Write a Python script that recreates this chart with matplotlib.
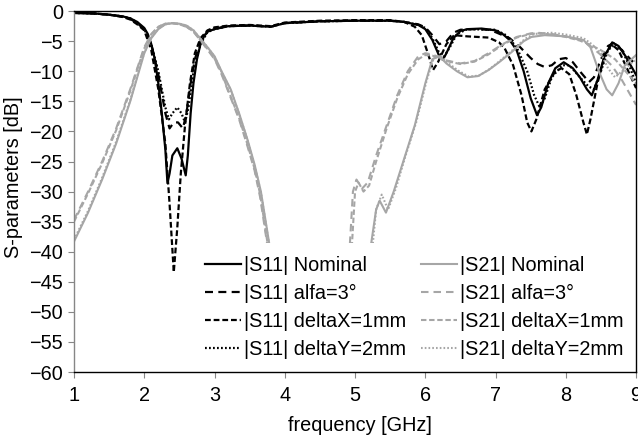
import numpy as np
import matplotlib.pyplot as plt

plt.rcParams['font.family'] = ['Liberation Sans', 'DejaVu Sans']

# |S11| curves (frequency GHz, dB)
s11_nom_f = [1.0, 1.3, 1.5, 1.7, 1.8, 1.9, 2.0, 2.05, 2.1, 2.15, 2.2, 2.25, 2.3, 2.33, 2.36, 2.4, 2.47, 2.53,
             2.59, 2.62, 2.66, 2.7, 2.75, 2.8, 2.85, 2.9, 3.0, 3.2, 3.5, 3.8, 4.0, 4.5, 5.0, 5.5, 5.7, 5.9,
             6.0, 6.1, 6.2, 6.25, 6.3, 6.4, 6.5, 6.6, 6.8, 7.0, 7.1, 7.2, 7.3, 7.4, 7.5, 7.59, 7.65, 7.75,
             7.85, 7.97, 8.1, 8.2, 8.3, 8.37, 8.45, 8.55, 8.66, 8.75, 8.85, 9.0]
s11_nom_db = [-0.3, -0.4, -0.6, -0.9, -1.2, -1.8, -2.8, -3.8, -5.5, -8, -12, -17, -23, -28.6, -27, -24, -22.8,
              -24.5, -27.3, -24, -17, -12, -8, -5.5, -4.2, -3.4, -3.0, -2.5, -2.4, -2.6, -2.0, -1.7, -1.6,
              -1.6, -1.8, -2.3, -3.0, -4.8, -7.5, -8.1, -7.0, -4.5, -3.3, -3.0, -2.9, -3.2, -3.8, -4.8,
              -6.5, -10, -14.5, -17.3, -16, -12, -9.5, -8.5, -9.5, -11, -13, -14, -11.5, -7.5, -5.2, -5.8,
              -7.5, -10.6]

s11_alfa_f = [1.0, 1.3, 1.5, 1.7, 1.8, 1.9, 2.0, 2.1, 2.2, 2.3, 2.36, 2.42, 2.48, 2.55, 2.6, 2.66, 2.72, 2.8,
              2.9, 3.0, 3.2, 3.5, 3.8, 4.0, 4.5, 5.0, 5.5, 5.7, 5.9, 6.0, 6.1, 6.2, 6.3, 6.4, 6.5, 6.7, 6.9,
              7.0, 7.2, 7.35, 7.5, 7.6, 7.7, 7.8, 7.9, 8.0, 8.1, 8.2, 8.33, 8.4, 8.5, 8.6, 8.68, 8.8, 9.0]
s11_alfa_db = [-0.3, -0.4, -0.6, -0.9, -1.3, -2.0, -3.0, -5.5, -10.5, -17, -19.5, -18.5, -18.5, -19.5, -17,
               -12, -8, -5, -3.4, -2.9, -2.5, -2.4, -2.6, -2.0, -1.7, -1.6, -1.6, -1.8, -2.2, -2.7, -4.0,
               -5.5, -5.0, -3.6, -3.1, -3.0, -3.1, -3.5, -4.5, -6, -7.8, -8.8, -9.3, -9, -8, -7.8, -8.5,
               -10, -11.8, -11, -8, -5.8, -5.3, -6.5, -9]

s11_dx_f = [1.0, 1.3, 1.5, 1.7, 1.8, 1.9, 2.0, 2.1, 2.2, 2.3, 2.36, 2.42, 2.47, 2.52, 2.58, 2.65, 2.72, 2.8,
            2.9, 3.0, 3.2, 3.5, 3.8, 4.0, 4.5, 5.0, 5.5, 5.7, 5.85, 5.95, 6.05, 6.11, 6.18, 6.3, 6.41, 6.6,
            6.9, 7.05, 7.13, 7.25, 7.37, 7.45, 7.51, 7.58, 7.7, 7.85, 7.94, 8.05, 8.15, 8.25, 8.3, 8.35,
            8.45, 8.55, 8.65, 8.75, 8.85, 9.0]
s11_dx_db = [-0.3, -0.4, -0.6, -1.0, -1.4, -2.2, -3.2, -6.5, -13, -22, -32, -43.4, -36, -27, -19, -12, -7,
             -4.5, -3.2, -2.7, -2.4, -2.3, -2.5, -1.9, -1.6, -1.5, -1.5, -1.8, -2.6, -4, -7.5, -9.8, -8.5,
             -5.5, -4.0, -4.2, -4.4, -5.2, -6.2, -9, -14, -18.5, -20, -18, -13, -10, -9.5, -10.5, -14,
             -18.5, -20.5, -18, -12, -7.5, -5.5, -6.5, -9, -12.8]

s11_dy_f = [1.0, 1.3, 1.5, 1.7, 1.8, 1.9, 2.0, 2.1, 2.2, 2.3, 2.35, 2.4, 2.47, 2.53, 2.58, 2.63, 2.7, 2.8,
            2.9, 3.0, 3.2, 3.5, 3.8, 4.0, 4.5, 5.0, 5.5, 5.7, 5.9, 6.0, 6.1, 6.2, 6.27, 6.35, 6.45, 6.6,
            7.0, 7.15, 7.3, 7.45, 7.55, 7.63, 7.7, 7.8, 7.95, 8.05, 8.2, 8.32, 8.4, 8.5, 8.6, 8.7, 8.8,
            8.9, 9.0]
s11_dy_db = [-0.3, -0.4, -0.6, -0.9, -1.2, -1.9, -3.0, -5.5, -10, -16, -18, -17, -16, -17, -18.5, -16,
             -10, -5.5, -3.5, -3.0, -2.5, -2.4, -2.6, -2.0, -1.7, -1.6, -1.6, -1.8, -2.3, -2.8, -4.5, -7,
             -7.5, -6, -3.8, -3.0, -3.1, -4, -6, -10, -14, -16, -14.5, -11, -9, -9, -11, -12.5, -13, -10,
             -6.5, -5.5, -6.5, -9, -12]

# |S21| curves
s21_nom_f = [1.0, 1.2, 1.4, 1.6, 1.8, 1.9, 2.0, 2.1, 2.2, 2.3, 2.4, 2.5, 2.6, 2.7, 2.8, 2.9, 3.0, 3.1,
             3.23, 3.35, 3.47, 3.57, 3.66, 3.77, 3.9, 4.0, 4.1, 5.0, 5.15, 5.3, 5.35, 5.44, 5.55, 5.7,
             5.85, 6.0, 6.1, 6.2, 6.3, 6.45, 6.6, 6.75, 6.9, 7.05, 7.23, 7.4, 7.51, 7.7, 8.0, 8.25, 8.35,
             8.47, 8.58, 8.66, 8.75, 8.84, 9.0]
s21_nom_db = [-38.3, -33.5, -28, -22, -15, -11, -7, -4.5, -3, -2.2, -2.0, -2.1, -2.4, -3.2, -4.6, -6, -7.5,
              -10, -13, -17, -21.4, -25.5, -30, -38, -48, -56, -63, -65, -45, -33, -31.5, -33.5, -30,
              -24.5, -19, -12, -8, -7.5, -8.7, -10, -11, -10.8, -9.8, -8.5, -6.8, -5, -4.3, -4, -4.2,
              -4.8, -6, -10, -13, -14, -12, -9, -7.3]

s21_alfa_f = [1.0, 1.2, 1.4, 1.6, 1.8, 1.9, 2.0, 2.1, 2.2, 2.3, 2.4, 2.5, 2.6, 2.7, 2.8, 2.9, 3.0, 3.1, 3.2,
              3.35, 3.47, 3.57, 3.65, 3.74, 3.85, 3.95, 4.05, 4.8, 4.92, 4.97, 5.02, 5.1, 5.18, 5.3,
              5.45, 5.6, 5.75, 5.9, 6.0, 6.1, 6.3, 6.5, 6.7, 6.9, 7.1, 7.3, 7.5, 7.6, 7.8, 8.0, 8.2,
              8.35, 8.5, 8.65, 8.8, 9.0]
s21_alfa_db = [-34.7, -30, -25, -19.5, -13, -9.5, -6, -3.8, -2.6, -2.1, -2.0, -2.2, -2.6, -3.4, -4.9, -6.4,
               -8, -10.5, -13.5, -18, -22.5, -26.5, -31, -38, -46, -55, -63, -65, -40, -30, -28, -29.5,
               -28.5, -24, -19, -14, -10, -7.5, -7, -7.2, -8.2, -8.7, -8.3, -7, -5.5, -4.3, -3.7, -3.6,
               -3.8, -4.2, -4.8, -5.8, -7.3, -9, -11.5, -15.6]

s21_dx_f = [1.0, 1.2, 1.4, 1.6, 1.8, 1.9, 2.0, 2.1, 2.2, 2.3, 2.4, 2.5, 2.6, 2.7, 2.8, 2.9, 3.0, 3.1, 3.2,
            3.35, 3.47, 3.57, 3.65, 3.74, 3.85, 3.95, 4.05, 4.85, 4.95, 5.0, 5.05, 5.12, 5.2, 5.3, 5.45,
            5.6, 5.75, 5.9, 6.0, 6.1, 6.3, 6.5, 6.7, 6.9, 7.1, 7.3, 7.5, 7.6, 7.8, 8.0, 8.2, 8.35, 8.5,
            8.7, 8.85, 9.0]
s21_dx_db = [-35.0, -30.3, -25.3, -19.8, -13.3, -9.7, -6.2, -3.9, -2.6, -2.1, -2.0, -2.2, -2.6, -3.4, -4.8,
             -6.3, -7.9, -10.3, -13.3, -17.8, -22.2, -26.2, -30.5, -37.5, -45.5, -54.5, -62.5, -65, -40,
             -30, -28.5, -30, -29, -25, -19.5, -14.5, -10.5, -8, -7.3, -7.4, -8.3, -8.8, -8.4, -7.2,
             -5.6, -4.4, -3.8, -3.7, -3.9, -4.3, -4.9, -5.6, -6.5, -8, -10, -12]

s21_dy_f = [1.0, 1.2, 1.4, 1.6, 1.8, 1.9, 2.0, 2.1, 2.2, 2.3, 2.4, 2.5, 2.6, 2.7, 2.8, 2.9, 3.0, 3.1,
            3.23, 3.35, 3.47, 3.57, 3.66, 3.77, 3.9, 4.0, 4.1, 5.05, 5.2, 5.3, 5.38, 5.47, 5.58, 5.72,
            5.87, 6.02, 6.12, 6.22, 6.32, 6.47, 6.62, 6.77, 6.92, 7.07, 7.25, 7.42, 7.55, 7.8, 8.0, 8.25,
            8.37, 8.5, 8.6, 8.7, 8.8, 8.9, 9.0]
s21_dy_db = [-38.0, -33.2, -27.7, -21.7, -14.8, -10.8, -6.9, -4.4, -2.9, -2.2, -2.0, -2.1, -2.4, -3.2, -4.6,
             -6, -7.6, -10.1, -13.1, -17.1, -21.5, -25.7, -30.2, -38.3, -48.5, -56.5, -63.5, -65, -45,
             -33, -30.5, -33, -29.5, -24, -18.5, -11.5, -7.8, -7.4, -8.6, -9.9, -10.9, -10.7, -9.6, -8.2,
             -6.4, -4.6, -3.8, -3.6, -3.9, -4.5, -5.5, -7, -9.5, -11, -10, -9, -8]

s11_series = [(s11_nom_f, s11_nom_db, '|S11| Nominal'),
              (s11_alfa_f, s11_alfa_db, '|S11| alfa=3°'),
              (s11_dx_f, s11_dx_db, '|S11| deltaX=1mm'),
              (s11_dy_f, s11_dy_db, '|S11| deltaY=2mm')]
s21_series = [(s21_nom_f, s21_nom_db, '|S21| Nominal'),
              (s21_alfa_f, s21_alfa_db, '|S21| alfa=3°'),
              (s21_dx_f, s21_dx_db, '|S21| deltaX=1mm'),
              (s21_dy_f, s21_dy_db, '|S21| deltaY=2mm')]
styles = ['-', (0, (3.6, 2.4)), (0, (2.6, 1.3)), (0, (0.8, 1.0))]

fs = 14.3
fig = plt.figure(figsize=(6.38, 4.44), dpi=100)
ax = fig.add_axes([0.116, 0.162, 0.881, 0.813])

handles = []
for (f, db, lab), ls in zip(s11_series, styles):
    h, = ax.plot(f, db, color='black', lw=1.6, ls=ls, label=lab)
    handles.append(h)
for (f, db, lab), ls in zip(s21_series, styles):
    h, = ax.plot(f, db, color='#a6a6a6', lw=1.5, ls=ls, label=lab)
    handles.append(h)

ax.set_xlim(1, 9)
ax.set_ylim(-60, 0)
ax.set_xticks(range(1, 10))
ax.set_yticks(range(-60, 1, 5))
ax.tick_params(axis='both', direction='out', length=4, color='#868686', labelsize=fs)
ax.tick_params(axis='x', pad=6)
ax.tick_params(axis='y', pad=4)
for s in ax.spines.values():
    s.set_color('black')
    s.set_linewidth(1.0)
    s.set_zorder(6)
ax.spines['left'].set_color('#868686')

ax.set_xlabel('frequency [GHz]', fontsize=fs)
ax.set_ylabel('S-parameters [dB]', fontsize=fs)
ax.xaxis.set_label_coords(0.508, -0.122)
ax.yaxis.set_label_coords(-0.09, 0.54)

leg = ax.legend(handles=handles, ncol=2, loc='lower right', bbox_to_anchor=(1.0, 0.0),
                borderaxespad=0.0, fontsize=fs, handlelength=1.8, handletextpad=0.15,
                labelspacing=0.45, columnspacing=0.75, borderpad=0.65,
                frameon=True, fancybox=False, framealpha=1.0)
leg.get_frame().set_edgecolor('none')
leg.get_frame().set_facecolor('white')

fig.savefig('out.png', dpi=100)
